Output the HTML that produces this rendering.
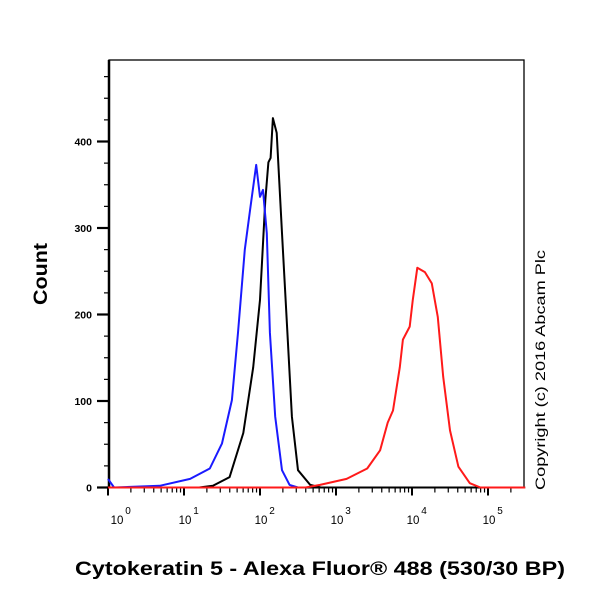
<!DOCTYPE html>
<html><head><meta charset="utf-8"><style>
body{margin:0;background:#fff;}
svg{display:block;font-family:"Liberation Sans",Arial,sans-serif;}
</style></head><body>
<svg id="chart" width="600" height="600" viewBox="0 0 600 600">
<rect x="0" y="0" width="600" height="600" fill="#fff"/>
<g id="plot"></g>
<text x="47" y="274" transform="rotate(-90 47 274)" text-anchor="middle" font-size="19" font-weight="bold" textLength="62" lengthAdjust="spacingAndGlyphs">Count</text>
<text x="320" y="575" text-anchor="middle" font-size="19" font-weight="bold" textLength="490" lengthAdjust="spacingAndGlyphs">Cytokeratin 5 - Alexa Fluor® 488 (530/30 BP)</text>
<text x="545" y="370" transform="rotate(-90 545 370)" text-anchor="middle" font-size="13.5" textLength="240" lengthAdjust="spacingAndGlyphs">Copyright (c) 2016 Abcam Plc</text>
</svg>
<script>
// data: x values in log10 units, y values are counts
const blueLogX = [0.0,0.08,0.68,1.08,1.34,1.5,1.63,1.71,1.80,1.87,1.95,2.0,2.04,2.09,2.13,2.20,2.29,2.39,2.5];
const blueCount = [10,0,2,10,22,51,101,179,275,321,373,336,344,294,179,82,20,3,0];
const blackLogX = [0.0,1.2,1.38,1.6,1.78,1.91,2.0,2.07,2.11,2.14,2.17,2.22,2.29,2.36,2.42,2.50,2.66,2.8,5.49];
const blackCount = [0,0,2,12,63,139,217,332,376,381,427,410,294,179,82,20,3,0,0];
const redLogX = [0.0,2.6,2.79,3.14,3.41,3.58,3.68,3.75,3.84,3.88,3.97,4.01,4.07,4.17,4.26,4.34,4.41,4.50,4.61,4.76,4.9,5.49];
const redCount = [0,0,3,10,22,43,75,89,139,171,186,217,254,249,236,197,128,66,24,5,0,0];
const yTicks = [0,100,200,300,400];
const yTickLabels = ["0","100","200","300","400"];
const xDecades = [0,1,2,3,4,5];

const L=109,R=524,T=60,B=487.5;
const X0=108, DEC=76;
function xs(lx){return X0+lx*DEC;}
function ys(c){return B-c*0.865;}
const NS="http://www.w3.org/2000/svg";
const plot=document.getElementById('plot');
function mk(tag,attrs){const e=document.createElementNS(NS,tag);for(const k in attrs)e.setAttribute(k,attrs[k]);plot.appendChild(e);return e;}

const frame=mk('rect',{x:L,y:T,width:R-L,height:B-T,fill:'none',stroke:'#000','stroke-width':1.3});


const yax=mk('line',{x1:L,y1:T,x2:L,y2:B+1,stroke:'#000','stroke-width':2.5});


const xax=mk('line',{x1:L,y1:B,x2:R,y2:B,stroke:'#000','stroke-width':2});



for(let v=25;v<=475;v+=25){
  if(v%100===0)continue;
  const t=mk('line',{x1:L-5,y1:ys(v),x2:L,y2:ys(v),stroke:'#000','stroke-width':1.2});
  
  
}
yTicks.forEach((v,i)=>{
  const t=mk('line',{x1:L-12,y1:ys(v),x2:L,y2:ys(v),stroke:'#000','stroke-width':2.2});
  
  
  const tx=mk('text',{x:L-17,y:ys(v)+4,'text-anchor':'end','font-size':10.5,'font-weight':'bold'});
  tx.textContent=yTickLabels[i];
  
  
});

xDecades.forEach(d=>{
  const x=xs(d);
  if(x>=L-2&&x<=R){
    const t=mk('line',{x1:x,y1:B,x2:x,y2:B+8,stroke:'#000','stroke-width':2});
    
    
  }
  for(let m=2;m<=9;m++){
    const xm=xs(d+Math.log10(m));
    if(xm>R)break;
    const t=mk('line',{x1:xm,y1:B,x2:xm,y2:B+5,stroke:'#000','stroke-width':1.2});
    
    
  }
  const lx=(d===0?121:x+5);
  const tx=mk('text',{x:lx-4,y:524,'text-anchor':'middle','font-size':11.5});
  tx.textContent='10';
  
  
  const sp=mk('text',{x:lx+7,y:514,'text-anchor':'middle','font-size':10});
  sp.textContent=String(d);
  
  
});

function series(lx,cnt,color,name){
  const d=lx.map((v,i)=>(i?'L':'M')+xs(v).toFixed(1)+','+ys(cnt[i]).toFixed(1)).join(' ');
  const p=mk('path',{d:d,fill:'none',stroke:color,'stroke-width':2,'stroke-linejoin':'round'});
  
  
}
series(blackLogX,blackCount,'#000','isotype-control-histogram');
series(blueLogX,blueCount,'#1a1aff','unstained-histogram');
series(redLogX,redCount,'#ff1a1a','cytokeratin5-histogram');
</script>
</body></html>
